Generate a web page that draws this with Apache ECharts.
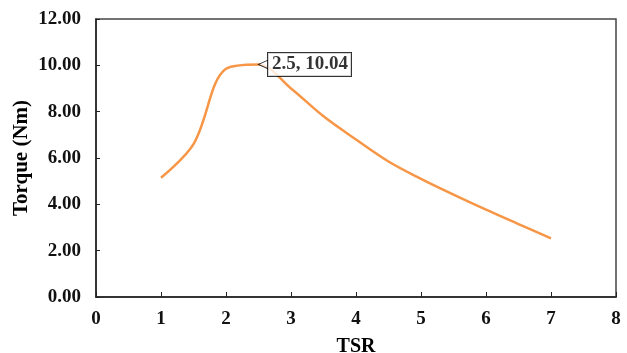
<!DOCTYPE html>
<html>
<head>
<meta charset="utf-8">
<script src="https://cdn.jsdelivr.net/npm/echarts@6/dist/echarts.min.js"></script>
<style>html,body{margin:0;padding:0;background:#fff}#c{width:627px;height:353px}</style>
</head>
<body>
<div id="c"></div>
<script>
var tsr = [1, 1.5, 2, 2.5, 3, 3.5, 4, 4.5, 5, 5.5, 6, 6.5, 7];
var torque = [5.15, 6.6, 9.85, 10.04, 9.0, 7.8, 6.8, 5.85, 5.1, 4.42, 3.77, 3.15, 2.53];
var calloutIndex = 3;
var xTitle = 'TSR';
var yTitle = 'Torque (Nm)';

var font = 'Liberation Serif, Times New Roman, serif';
var lineData = tsr.map(function (x, i) { return [x, torque[i]]; });
var calloutData = [[tsr[calloutIndex], torque[calloutIndex]]];

var chart = echarts.init(document.getElementById('c'));
chart.setOption({
  animation: false,
  grid: { left: 96, right: 11, top: 19, bottom: 56, containLabel: false, outerBoundsMode: 'none',
    show: true, borderColor: '#444', borderWidth: 1.5, backgroundColor: 'transparent' },
  xAxis: {
    type: 'value', min: 0, max: 8, interval: 1,
    name: xTitle, nameLocation: 'middle', nameGap: 40,
    nameTextStyle: { fontFamily: font, fontWeight: 'bold', fontSize: 20, color: '#000' },
    axisLine: { show: true, lineStyle: { color: '#222', width: 1.5 } },
    axisTick: { show: true, inside: true, length: 5, lineStyle: { color: '#222' } },
    axisLabel: { fontFamily: font, fontWeight: 'bold', fontSize: 19, color: '#111', margin: 13 },
    splitLine: { show: false }
  },
  yAxis: {
    type: 'value', min: 0, max: 12, interval: 2,
    name: yTitle, nameLocation: 'middle', nameGap: 64, nameRotate: 90, nameMoveOverlap: false,
    nameTextStyle: { fontFamily: font, fontWeight: 'bold', fontSize: 21, color: '#000' },
    axisLine: { show: true, lineStyle: { color: '#222', width: 1.5 } },
    axisTick: { show: true, inside: true, length: 4, lineStyle: { color: '#222' } },
    axisLabel: { fontFamily: font, fontWeight: 'bold', fontSize: 19, color: '#111', margin: 15,
      formatter: function (v) { return v.toFixed(2); } },
    splitLine: { show: false }
  },
  series: [{
    type: 'line',
    data: lineData,
    smooth: 0.35,
    showSymbol: false,
    lineStyle: { color: '#F79646', width: 2.5 },
    itemStyle: { color: '#F79646' }
  }, {
    type: 'scatter',
    data: calloutData,
    symbol: 'path://M0,5 L10,0 L10,10 Z',
    symbolSize: [10, 9],
    symbolOffset: [5, 0],
    symbolKeepAspect: false,
    itemStyle: { color: '#fff', borderColor: '#000', borderWidth: 1 },
    z: 4
  }, {
    type: 'scatter',
    data: calloutData,
    symbolSize: 1,
    itemStyle: { color: 'rgba(0,0,0,0)' },
    label: {
      show: true,
      position: 'right',
      distance: 9,
      formatter: function (p) { return p.value[0] + ', ' + p.value[1].toFixed(2); },
      fontFamily: font, fontWeight: 'bold', fontSize: 19, color: '#000',
      backgroundColor: '#fff', borderColor: '#000', borderWidth: 1,
      padding: [3, 3, 1, 4]
    },
    z: 5
  }]
});
</script>
</body>
</html>
